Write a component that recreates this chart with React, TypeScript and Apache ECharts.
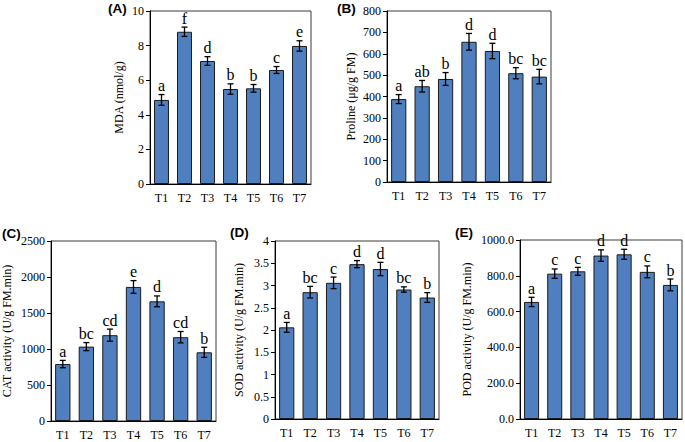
import React, { useEffect, useRef } from "react";
import * as echarts from "echarts";

const categories = ["T1", "T2", "T3", "T4", "T5", "T6", "T7"];

const mdaValues = [4.86, 8.8, 7.11, 5.49, 5.53, 6.59, 7.98];
const mdaErrors = [0.31, 0.27, 0.25, 0.3, 0.22, 0.2, 0.3];
const mdaLetters = ["a", "f", "d", "b", "b", "c", "e"];

const prolineValues = [388, 448, 482, 656, 613, 509, 493];
const prolineErrors = [21, 27, 30, 39, 36, 26, 34];
const prolineLetters = ["a", "ab", "b", "d", "d", "bc", "bc"];

const catValues = [791, 1033, 1192, 1862, 1662, 1164, 954];
const catErrors = [51, 56, 84, 88, 75, 79, 70];
const catLetters = ["a", "bc", "cd", "e", "d", "cd", "b"];

const sodValues = [2.06, 2.85, 3.06, 3.48, 3.37, 2.91, 2.73];
const sodErrors = [0.11, 0.13, 0.13, 0.08, 0.15, 0.06, 0.11];
const sodLetters = ["a", "bc", "c", "d", "d", "bc", "b"];

const podValues = [654, 812, 825, 913, 920, 822, 749];
const podErrors = [26, 26, 22, 32, 28, 33, 33];
const podLetters = ["a", "c", "c", "d", "d", "c", "b"];

const SERIF = "'Liberation Serif', 'Times New Roman', serif";
const SANS = "'Liberation Sans', Arial, sans-serif";

type Panel = {
  tag: string;
  name: string;
  values: number[];
  errors: number[];
  letters: string[];
  max: number;
  interval: number;
  decimals: number;
  grid: { left: number; top: number; width: number; height: number };
  nameGap: number;
  tagPos: [number, number];
};

const panels: Panel[] = [
  { tag: "(A)", name: "MDA (nmol/g)", values: mdaValues, errors: mdaErrors, letters: mdaLetters, max: 10, interval: 2, decimals: 0,
    grid: { left: 150, top: 11, width: 161, height: 173 }, nameGap: 25, tagPos: [108, 8] },
  { tag: "(B)", name: "Proline (μg/g FM)", values: prolineValues, errors: prolineErrors, letters: prolineLetters, max: 800, interval: 100, decimals: 0,
    grid: { left: 387, top: 11, width: 164, height: 171 }, nameGap: 30, tagPos: [337, 8] },
  { tag: "(C)", name: "CAT activity (U/g FM.min)", values: catValues, errors: catErrors, letters: catLetters, max: 2500, interval: 500, decimals: 0,
    grid: { left: 51, top: 241, width: 165, height: 180 }, nameGap: 38, tagPos: [2, 233] },
  { tag: "(D)", name: "SOD activity (U/g FM.min)", values: sodValues, errors: sodErrors, letters: sodLetters, max: 4, interval: 0.5, decimals: -1,
    grid: { left: 275, top: 241, width: 164, height: 178 }, nameGap: 30, tagPos: [230, 232] },
  { tag: "(E)", name: "POD activity (U/g FM.min)", values: podValues, errors: podErrors, letters: podLetters, max: 1000, interval: 200, decimals: 1,
    grid: { left: 520, top: 240, width: 162, height: 179 }, nameGap: 47, tagPos: [455, 232] },
];

export default function App() {
  const ref = useRef<HTMLDivElement>(null);
  useEffect(() => {
    document.body.style.margin = "0";
    if (!ref.current) return;
    const chart = echarts.init(ref.current, undefined, { renderer: "svg" });
    const grids: any[] = [];
    const xAxes: any[] = [];
    const yAxes: any[] = [];
    const series: any[] = [];
    const graphics: any[] = [];
    panels.forEach((p, i) => {
      grids.push({ ...p.grid, show: true, borderColor: "#3a3a3a", borderWidth: 1, backgroundColor: "transparent" });
      xAxes.push({
        type: "category", gridIndex: i, data: categories,
        axisLine: { lineStyle: { color: "#000", width: 1 } },
        axisTick: { show: false },
        axisLabel: { color: "#000", fontFamily: SERIF, fontSize: 12, margin: 8 },
      });
      yAxes.push({
        type: "value", gridIndex: i, min: 0, max: p.max, interval: p.interval,
        name: p.name, nameLocation: "middle", nameRotate: 90, nameGap: p.nameGap,
        nameTextStyle: { color: "#000", fontFamily: SERIF, fontSize: 12 },
        axisLine: { show: true, lineStyle: { color: "#000", width: 1 } },
        axisTick: { show: true, length: 4, lineStyle: { color: "#000" } },
        splitLine: { show: false },
        axisLabel: {
          color: "#000", fontFamily: SERIF, fontSize: 12, margin: 6,
          formatter: (v: number) => (p.decimals >= 0 ? v.toFixed(p.decimals) : String(v)),
        },
      });
      series.push({
        type: "bar", xAxisIndex: i, yAxisIndex: i, data: p.values,
        barCategoryGap: "35%",
        itemStyle: { color: "#4F7FBF", borderColor: "#1b1b1b", borderWidth: 1 },
      });
      series.push({
        type: "custom", xAxisIndex: i, yAxisIndex: i, z: 5,
        data: p.values.map((v, k) => [k, v, p.errors[k]]),
        renderItem: (params: any, api: any) => {
          const x = api.value(0);
          const v = api.value(1);
          const e = api.value(2);
          const top = api.coord([x, v + e]);
          const bot = api.coord([x, v - e]);
          const hw = 3;
          const st = { stroke: "#000", lineWidth: 1.3 };
          return {
            type: "group",
            children: [
              { type: "line", shape: { x1: top[0], y1: top[1], x2: bot[0], y2: bot[1] }, style: st },
              { type: "line", shape: { x1: top[0] - hw, y1: top[1], x2: top[0] + hw, y2: top[1] }, style: st },
              { type: "line", shape: { x1: bot[0] - hw, y1: bot[1], x2: bot[0] + hw, y2: bot[1] }, style: st },
              {
                type: "text", x: top[0], y: top[1] - 1,
                style: {
                  text: p.letters[params.dataIndex], align: "center", verticalAlign: "bottom",
                  fontFamily: SERIF, fontSize: 16, fill: "#000",
                },
              },
            ],
          };
        },
      });
      graphics.push({
        type: "text", left: p.tagPos[0], top: p.tagPos[1] - 7,
        style: { text: p.tag, fontFamily: SANS, fontWeight: "bold", fontSize: 13.5, fill: "#000" },
      });
    });
    chart.setOption({
      animation: false,
      backgroundColor: "#fff",
      grid: grids,
      xAxis: xAxes,
      yAxis: yAxes,
      series,
      graphic: graphics,
    });
    return () => chart.dispose();
  }, []);
  return <div ref={ref} style={{ width: 685, height: 442, position: "absolute", left: 0, top: 0 }} />;
}
